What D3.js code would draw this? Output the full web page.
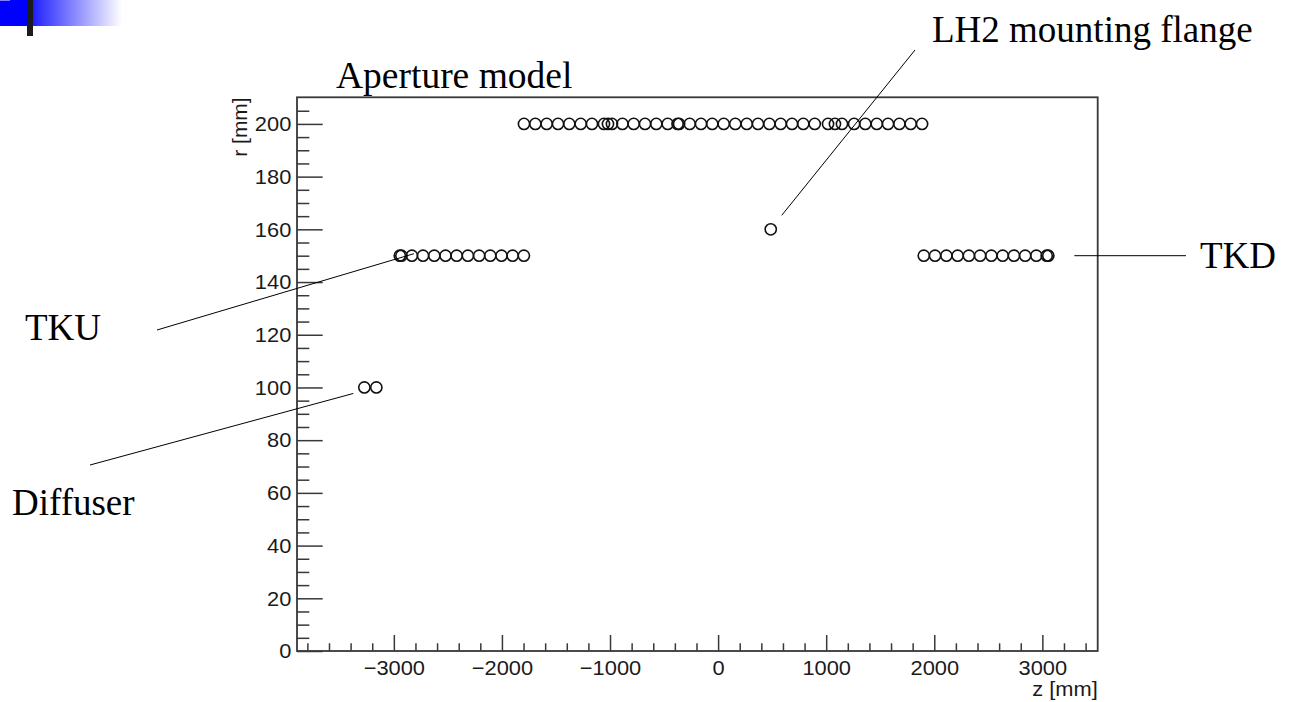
<!DOCTYPE html>
<html>
<head>
<meta charset="utf-8">
<script src="https://cdn.jsdelivr.net/npm/d3@7"></script>
<style>
  html, body { margin: 0; padding: 0; background: #fff; }
  svg { display: block; }
</style>
</head>
<body>
<svg id="chart" width="1303" height="702"></svg>
<script>
// ---- data (z in mm, r in mm) ----
const beamPipeZ = [-1796, -1691, -1586, -1481, -1377, -1271, -1167, -1056, -1019, -982,
  -885, -781, -676, -572, -466, -375, -361, -263, -158, -54, 52, 159, 265, 369, 474,
  579, 684, 788, 894, 1017, 1081, 1146, 1258, 1362, 1468, 1572, 1677, 1782, 1887];
const beamPipeR = 200;
const tkuZ = [-2945, -2930, -2833, -2730, -2626, -2522, -2419, -2315, -2211, -2108, -2004, -1901, -1797];
const tkuR = 150;
const tkdZ = [1903, 2007, 2112, 2216, 2320, 2424, 2528, 2633, 2737, 2841, 2944, 3040, 3055];
const tkdR = 150;
const diffuserZ = [-3273, -3162];
const diffuserR = 100;
const lh2Z = [487];
const lh2R = 160;

const xDomain = [-3896, 3512];
const yDomain = [0, 210.1];
const xMajorTicks = [-3000, -2000, -1000, 0, 1000, 2000, 3000];
const yMajorTicks = [0, 20, 40, 60, 80, 100, 120, 140, 160, 180, 200];

const title = "Aperture model";
const xLabel = "z [mm]";
const yLabel = "r [mm]";

// ---- layout ----
const svg = d3.select("#chart");
const L = 297, R = 1097.7, T = 97.3, B = 651;
const x = d3.scaleLinear().domain(xDomain).range([L, R]);
const y = d3.scaleLinear().domain(yDomain).range([B, T]);
const axisColor = "#383838";
const sans = "'Liberation Sans', Arial, sans-serif";
const serif = "'Liberation Serif', 'Times New Roman', serif";
const sansSize = 21;

// logo in top-left corner
const defs = svg.append("defs");
const grad = defs.append("linearGradient").attr("id", "logoGrad").attr("x1", 0).attr("x2", 1).attr("y1", 0).attr("y2", 0);
grad.append("stop").attr("offset", "0%").attr("stop-color", "#0000ff");
grad.append("stop").attr("offset", "22%").attr("stop-color", "#0000ff");
grad.append("stop").attr("offset", "30%").attr("stop-color", "#2a2aff");
grad.append("stop").attr("offset", "100%").attr("stop-color", "#ffffff");
svg.append("rect").attr("x", 0).attr("y", 0).attr("width", 122).attr("height", 26).attr("fill", "url(#logoGrad)");
svg.append("rect").attr("x", 0).attr("y", 0).attr("width", 10).attr("height", 1).attr("fill", "#8080ff");
svg.append("rect").attr("x", 27).attr("y", 0).attr("width", 6).attr("height", 36).attr("fill", "#1c1c1c");

// minor ticks
const xMinor = d3.range(-3800, 3500, 200).filter(v => !xMajorTicks.includes(v));
const yMinor = d3.range(0, 210, 5).filter(v => !yMajorTicks.includes(v));

const gxMinor = svg.append("g").attr("transform", `translate(0,${B})`)
  .call(d3.axisBottom(x).tickValues(xMinor).tickSize(-7.7).tickFormat(""));
const gyMinor = svg.append("g").attr("transform", `translate(${L},0)`)
  .call(d3.axisLeft(y).tickValues(yMinor).tickSize(-12.3).tickFormat(""));

const fmt = v => (v < 0 ? "\u2212" + Math.abs(v) : String(v));
const gx = svg.append("g").attr("transform", `translate(0,${B})`)
  .call(d3.axisBottom(x).tickValues(xMajorTicks).tickSize(-16).tickPadding(10).tickFormat(fmt));
const gy = svg.append("g").attr("transform", `translate(${L},0)`)
  .call(d3.axisLeft(y).tickValues(yMajorTicks).tickSize(-25.7).tickPadding(5.5).tickFormat(fmt));

[gxMinor, gyMinor, gx, gy].forEach(g => {
  g.select(".domain").remove();
  g.selectAll(".tick line").attr("stroke", axisColor).attr("stroke-width", 1.5);
  g.selectAll(".tick text").attr("fill", "#1a1a1a").attr("font-family", sans).attr("font-size", sansSize)
    .attr("transform", "scale(1.04,1)");
});
gx.selectAll(".tick text").attr("dy", "0.71em").attr("y", 9);

// frame
svg.append("rect").attr("x", L).attr("y", T).attr("width", R - L).attr("height", B - T)
  .attr("fill", "none").attr("stroke", axisColor).attr("stroke-width", 1.8);

// axis titles
svg.append("text").attr("transform", `translate(${R},696) scale(1.04,1)`).attr("text-anchor", "end")
  .attr("font-family", sans).attr("font-size", sansSize).attr("fill", "#1a1a1a").text(xLabel);
svg.append("text").attr("transform", `translate(247,${T}) rotate(-90)`).attr("text-anchor", "end")
  .attr("font-family", sans).attr("font-size", sansSize).attr("fill", "#1a1a1a").text(yLabel);

// title
svg.append("text").attr("x", 336).attr("y", 88).attr("font-family", serif).attr("font-size", 37.5)
  .attr("fill", "#000").text(title);

// points
const points = [].concat(
  beamPipeZ.map(z => ({z, r: beamPipeR})),
  tkuZ.map(z => ({z, r: tkuR})),
  tkdZ.map(z => ({z, r: tkdR})),
  diffuserZ.map(z => ({z, r: diffuserR})),
  lh2Z.map(z => ({z, r: lh2R}))
);
svg.append("g").selectAll("circle").data(points).join("circle")
  .attr("cx", d => x(d.z)).attr("cy", d => y(d.r)).attr("r", 5.6)
  .attr("fill", "none").attr("stroke", "#111").attr("stroke-width", 1.6);

// annotations
const ann = svg.append("g").attr("stroke", "#000").attr("stroke-width", 1);
ann.append("line").attr("x1", 915).attr("y1", 50).attr("x2", x(lh2Z[0]) + 11).attr("y2", y(lh2R) - 14);
ann.append("line").attr("x1", x(tkdZ[tkdZ.length - 1]) + 26).attr("y1", y(tkdR)).attr("x2", 1186).attr("y2", y(tkdR));
ann.append("line").attr("x1", 157).attr("y1", 330).attr("x2", x(tkuZ[2]) + 2).attr("y2", y(tkuR) - 2);
ann.append("line").attr("x1", 90).attr("y1", 465).attr("x2", x(diffuserZ[0]) - 11).attr("y2", y(diffuserR) + 6);

const label = (t, lx, ly) => svg.append("text").attr("x", lx).attr("y", ly)
  .attr("font-family", serif).attr("font-size", 37).attr("fill", "#000").text(t);
label("LH2 mounting flange", 932, 42);
label("TKD", 1200, 268);
label("TKU", 25, 340);
label("Diffuser", 12, 515);
</script>
</body>
</html>
